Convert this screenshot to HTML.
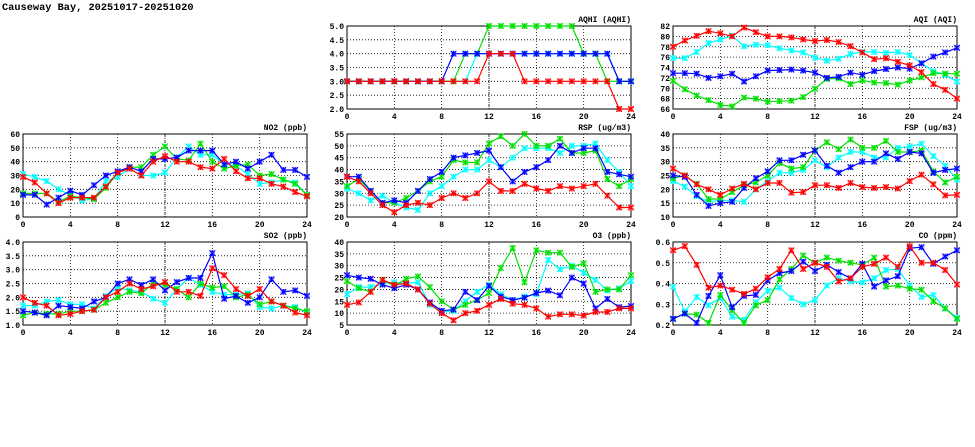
<!DOCTYPE html>
<html><head><meta charset="utf-8"><style>
html,body{margin:0;padding:0;background:#fff;}
svg{display:block;}
text{font-family:"Liberation Mono",monospace;font-weight:bold;font-size:8px;fill:#000;}
.t{font-size:10.3px;}
.y{text-anchor:end;}
.x{text-anchor:middle;}
.h{text-anchor:end;}
</style></head><body>
<svg id="s" width="975" height="447" xmlns="http://www.w3.org/2000/svg">
<rect width="975" height="447" fill="#fff"/>
<text class="t" x="2" y="10">Causeway Bay, 20251017-20251020</text>

<g transform="translate(347,26)" id="p_aqhi">
<text class="h" x="284" y="-4">AQHI (AQHI)</text>
<text class="y" x="-3" y="86">2.0</text><text class="y" x="-3" y="72.2">2.5</text><text class="y" x="-3" y="58.3">3.0</text><text class="y" x="-3" y="44.5">3.5</text><text class="y" x="-3" y="30.7">4.0</text><text class="y" x="-3" y="16.8">4.5</text><text class="y" x="-3" y="3">5.0</text>
<text class="x" x="0" y="93">0</text><text class="x" x="47.3" y="93">4</text><text class="x" x="94.7" y="93">8</text><text class="x" x="142" y="93">12</text><text class="x" x="189.3" y="93">16</text><text class="x" x="236.7" y="93">20</text><text class="x" x="284" y="93">24</text>
</g>
<g transform="translate(673,26)" id="p_aqi">
<text class="h" x="284" y="-4">AQI (AQI)</text>
<text class="y" x="-3" y="86">66</text><text class="y" x="-3" y="75.6">68</text><text class="y" x="-3" y="65.3">70</text><text class="y" x="-3" y="54.9">72</text><text class="y" x="-3" y="44.5">74</text><text class="y" x="-3" y="34.1">76</text><text class="y" x="-3" y="23.8">78</text><text class="y" x="-3" y="13.4">80</text><text class="y" x="-3" y="3">82</text>
<text class="x" x="0" y="93">0</text><text class="x" x="47.3" y="93">4</text><text class="x" x="94.7" y="93">8</text><text class="x" x="142" y="93">12</text><text class="x" x="189.3" y="93">16</text><text class="x" x="236.7" y="93">20</text><text class="x" x="284" y="93">24</text>
</g>
<g transform="translate(23,134)" id="p_no2">
<text class="h" x="284" y="-4">NO2 (ppb)</text>
<text class="y" x="-3" y="86">0</text><text class="y" x="-3" y="72.2">10</text><text class="y" x="-3" y="58.3">20</text><text class="y" x="-3" y="44.5">30</text><text class="y" x="-3" y="30.7">40</text><text class="y" x="-3" y="16.8">50</text><text class="y" x="-3" y="3">60</text>
<text class="x" x="0" y="93">0</text><text class="x" x="47.3" y="93">4</text><text class="x" x="94.7" y="93">8</text><text class="x" x="142" y="93">12</text><text class="x" x="189.3" y="93">16</text><text class="x" x="236.7" y="93">20</text><text class="x" x="284" y="93">24</text>
</g>
<g transform="translate(347,134)" id="p_rsp">
<text class="h" x="284" y="-4">RSP (ug/m3)</text>
<text class="y" x="-3" y="86">20</text><text class="y" x="-3" y="74.1">25</text><text class="y" x="-3" y="62.3">30</text><text class="y" x="-3" y="50.4">35</text><text class="y" x="-3" y="38.6">40</text><text class="y" x="-3" y="26.7">45</text><text class="y" x="-3" y="14.9">50</text><text class="y" x="-3" y="3">55</text>
<text class="x" x="0" y="93">0</text><text class="x" x="47.3" y="93">4</text><text class="x" x="94.7" y="93">8</text><text class="x" x="142" y="93">12</text><text class="x" x="189.3" y="93">16</text><text class="x" x="236.7" y="93">20</text><text class="x" x="284" y="93">24</text>
</g>
<g transform="translate(673,134)" id="p_fsp">
<text class="h" x="284" y="-4">FSP (ug/m3)</text>
<text class="y" x="-3" y="86">10</text><text class="y" x="-3" y="72.2">15</text><text class="y" x="-3" y="58.3">20</text><text class="y" x="-3" y="44.5">25</text><text class="y" x="-3" y="30.7">30</text><text class="y" x="-3" y="16.8">35</text><text class="y" x="-3" y="3">40</text>
<text class="x" x="0" y="93">0</text><text class="x" x="47.3" y="93">4</text><text class="x" x="94.7" y="93">8</text><text class="x" x="142" y="93">12</text><text class="x" x="189.3" y="93">16</text><text class="x" x="236.7" y="93">20</text><text class="x" x="284" y="93">24</text>
</g>
<g transform="translate(23,242)" id="p_so2">
<text class="h" x="284" y="-4">SO2 (ppb)</text>
<text class="y" x="-3" y="86">1.0</text><text class="y" x="-3" y="72.2">1.5</text><text class="y" x="-3" y="58.3">2.0</text><text class="y" x="-3" y="44.5">2.5</text><text class="y" x="-3" y="30.7">3.0</text><text class="y" x="-3" y="16.8">3.5</text><text class="y" x="-3" y="3">4.0</text>
<text class="x" x="0" y="93">0</text><text class="x" x="47.3" y="93">4</text><text class="x" x="94.7" y="93">8</text><text class="x" x="142" y="93">12</text><text class="x" x="189.3" y="93">16</text><text class="x" x="236.7" y="93">20</text><text class="x" x="284" y="93">24</text>
</g>
<g transform="translate(347,242)" id="p_o3">
<text class="h" x="284" y="-4">O3 (ppb)</text>
<text class="y" x="-3" y="86">5</text><text class="y" x="-3" y="74.1">10</text><text class="y" x="-3" y="62.3">15</text><text class="y" x="-3" y="50.4">20</text><text class="y" x="-3" y="38.6">25</text><text class="y" x="-3" y="26.7">30</text><text class="y" x="-3" y="14.9">35</text><text class="y" x="-3" y="3">40</text>
<text class="x" x="0" y="93">0</text><text class="x" x="47.3" y="93">4</text><text class="x" x="94.7" y="93">8</text><text class="x" x="142" y="93">12</text><text class="x" x="189.3" y="93">16</text><text class="x" x="236.7" y="93">20</text><text class="x" x="284" y="93">24</text>
</g>
<g transform="translate(673,242)" id="p_co">
<text class="h" x="284" y="-4">CO (ppm)</text>
<text class="y" x="-3" y="86">0.2</text><text class="y" x="-3" y="65.3">0.3</text><text class="y" x="-3" y="44.5">0.4</text><text class="y" x="-3" y="23.8">0.5</text><text class="y" x="-3" y="3">0.6</text>
<text class="x" x="0" y="93">0</text><text class="x" x="47.3" y="93">4</text><text class="x" x="94.7" y="93">8</text><text class="x" x="142" y="93">12</text><text class="x" x="189.3" y="93">16</text><text class="x" x="236.7" y="93">20</text><text class="x" x="284" y="93">24</text>
</g>
</svg>
<script>
var NS="http://www.w3.org/2000/svg",W=284,H=83;
var C={r:"#ff0000",g:"#00e000",c:"#00ffff",b:"#0000ff"};
var P={
p_aqhi:{min:2,max:5,n:7,d:{
c:[3,3,3,3,3,3,3,3,3,3,3,4,4,4,4,4,4,4,4,4,4,4,4,3,3],
g:[3,3,3,3,3,3,3,3,3,3,4,4,5,5,5,5,5,5,5,5,4,4,3,3,3],
b:[3,3,3,3,3,3,3,3,3,4,4,4,4,4,4,4,4,4,4,4,4,4,4,3,3],
r:[3,3,3,3,3,3,3,3,3,3,3,3,4,4,4,3,3,3,3,3,3,3,3,2,2]}},
p_aqi:{min:66,max:82,n:9,d:{
c:[75.8,75.8,77,78.7,79.4,80.1,78.1,78.4,78.3,77.7,77.3,76.9,75.9,75.3,75.7,76.6,77,77,76.8,77,76.4,74.8,73.3,72.6,71.3],
g:[71.4,69.8,68.6,67.7,66.8,66.5,68.2,68,67.4,67.5,67.6,68.3,69.9,71.8,71.9,70.8,71.5,71.1,71,70.7,71.5,72.1,72.9,72.8,72.8],
b:[72.9,72.9,72.8,72,72.3,72.8,71.3,72.3,73.4,73.5,73.6,73.4,73,72,72.2,73,72.6,73.3,73.7,74,73.8,74.8,76.1,76.9,77.8],
r:[78,79.2,80.1,81,80.6,80,81.7,80.8,80,80,79.8,79.4,79.1,79.3,78.9,78.1,76.9,75.6,75.8,75.1,74.4,73.1,70.8,69.7,68]}},
p_no2:{min:0,max:60,n:7,d:{
c:[31,29,26,20,16,12,13,26,29,35,30,30,32,43,51,45,45,38,37,31,24,25,27,25,16],
g:[17,17,17,11,15,14,13,21,32,36,36,45,51,42,41,53,40,35,37,38,30,31,27,24,16],
b:[16,16,9,14,19,16,23,30,33,36,33,42,42,43,48,48,48,38,40,35,40,45,34,34,29],
r:[29,25,17,10,14,14,14,22,32,35,30,40,44,40,40,36,35,42,33,28,28,24,22,18,15]}},
p_rsp:{min:20,max:55,n:8,d:{
c:[32,30,27,29,26,24,23,30,33,37,40,40,44,41,45,49,49,49,47,50,50,51,44,39,33],
g:[33,36,31,26,26,28,31,35,37,44,43,43,51,54,50,55,50,50,53,47,47,48,36,33,36],
b:[37,37,31,26,27,26,31,36,39,45,46,47,48,41,35,39,41,44,50,47,49,49,39,38,37],
r:[37,35,30,25,22,25,26,25,28,30,28,30,35,31,31,34,32,31,33,32,33,34,29,24,24]}},
p_fsp:{min:10,max:40,n:7,d:{
c:[23,21,17.5,15.5,16,16,15.5,20,23,26,26,27,30.5,28,31.5,33.5,33.5,31.5,31.5,35,35.5,36.5,32,28.5,23.5],
g:[24,25,22,16.5,16.5,19,21.5,22.5,25,29.5,27.5,28,34,37,34.5,38,35,35,37.5,33.5,33.5,34,26.5,22.5,24.5],
b:[25,24.5,18,14,15,15.5,20.5,24,26.5,30.5,30.5,32.5,34,28.5,26,28,30,30,33,31,33.5,33,26,27,27.5],
r:[27.5,25,21.8,20,18,20.3,22,20,22.3,22.3,18.8,19,21.5,21.5,20.5,22.3,20.8,20.5,20.8,20.3,23,25.3,21.8,17.8,18]}},
p_so2:{min:1,max:4,n:7,d:{
c:[1.7,1.7,1.85,1.9,1.75,1.75,1.6,2.05,2.35,2.25,2.2,1.95,1.8,2.3,2.7,2.45,2.2,2.1,2.1,2.15,1.65,1.6,1.7,1.65,1.45],
g:[1.35,1.45,1.4,1.4,1.5,1.5,1.55,1.8,2.0,2.2,2.15,2.5,2.45,2.3,2.0,2.5,2.35,2.4,2.0,2.1,1.75,1.85,1.7,1.6,1.5],
b:[1.5,1.45,1.35,1.7,1.65,1.6,1.85,2.0,2.5,2.65,2.45,2.65,2.25,2.55,2.7,2.7,3.6,1.95,2.05,1.8,2.0,2.65,2.2,2.25,2.05],
r:[2.0,1.8,1.7,1.35,1.4,1.5,1.55,2.0,2.2,2.5,2.3,2.4,2.55,2.2,2.2,2.05,3.05,2.8,2.3,2.05,2.3,1.85,1.7,1.45,1.35]}},
p_o3:{min:5,max:40,n:8,d:{
c:[18,21,21,22.5,23,22.5,23,13.5,10.5,11,15,19,22,18,15.5,17,18,32.5,28.5,30,27,24,19.5,20.5,23.5],
g:[23.5,20.5,19,24,21.5,24.5,25.5,21,15,11.5,13.5,15.5,18.5,29,37.5,23,36.5,35.5,35.5,29.5,31,19,20,20,26],
b:[26,25,24.5,22,20.5,22,20,14.5,11,11.5,19,15.5,21.5,17,15.5,16.5,18.5,19.5,17.5,25,22.5,12,16,12.5,13],
r:[13.5,14.5,19,24,22,22.5,20,14,10,7,10,11,13.5,16,14,13.5,12,8.5,9.5,9.5,9,10.5,10.5,12,12]}},
p_co:{min:0.2,max:0.6,n:5,d:{
c:[.385,.265,.335,.295,.33,.24,.225,.31,.365,.38,.33,.30,.32,.39,.425,.41,.405,.425,.465,.47,.39,.335,.345,.28,.235],
g:[.23,.255,.25,.21,.345,.27,.21,.295,.32,.42,.47,.535,.50,.525,.51,.50,.49,.525,.385,.39,.375,.37,.315,.28,.23],
b:[.23,.255,.21,.34,.44,.285,.34,.345,.415,.45,.46,.505,.46,.49,.455,.425,.495,.385,.415,.435,.57,.575,.495,.53,.56],
r:[.56,.58,.49,.38,.39,.37,.35,.375,.43,.47,.56,.47,.50,.48,.41,.425,.48,.495,.525,.48,.58,.50,.50,.465,.395]}}
};
function el(t,a,p){var e=document.createElementNS(NS,t);for(var k in a)e.setAttribute(k,a[k]);p.appendChild(e);return e;}
for(var id in P){
 var g=document.getElementById(id),p=P[id];
 var cl=el("clipPath",{id:"c"+id},g);el("rect",{x:-4,y:-4,width:W+8,height:H+8},cl);
 for(var i=1;i<p.n-1;i++){var y=H*(1-i/(p.n-1));el("line",{x1:0,x2:W,y1:y,y2:y,stroke:"#000","stroke-width":0.8,"stroke-dasharray":"1,2"},g);}
 for(var i=1;i<6;i++){var x=W*i/6;el("line",{x1:x,x2:x,y1:0,y2:H,stroke:"#000","stroke-width":0.8,"stroke-dasharray":i==3?"3,1,1,1":"1,2"},g);}
 el("rect",{x:0,y:0,width:W,height:H,fill:"none",stroke:"#000","stroke-width":1},g);
 ["c","g","b","r"].forEach(function(k){
  var d=p.d[k],pts=[],sg=el("g",{"clip-path":"url(#c"+id+")"},g);
  d.forEach(function(v,i){pts.push([W*i/24,H*(1-(v-p.min)/(p.max-p.min))]);});
  el("polyline",{points:pts.map(function(q){return q[0].toFixed(1)+","+q[1].toFixed(1);}).join(" "),fill:"none",stroke:C[k],"stroke-width":1.2},sg);
  pts.forEach(function(q){var x=q[0],y=q[1],s=2.8;
   el("rect",{x:x-s,y:y-s,width:2*s,height:2*s,fill:C[k],"fill-opacity":0.35,stroke:"none"},sg);
   el("path",{d:"M"+(x-s)+","+(y-s)+"L"+(x+s)+","+(y+s)+"M"+(x-s)+","+(y+s)+"L"+(x+s)+","+(y-s)+"M"+x+","+(y-s)+"L"+x+","+(y+s),stroke:C[k],"stroke-width":1.1,fill:"none"},sg);
  });
 });
}
</script>
</body></html>
